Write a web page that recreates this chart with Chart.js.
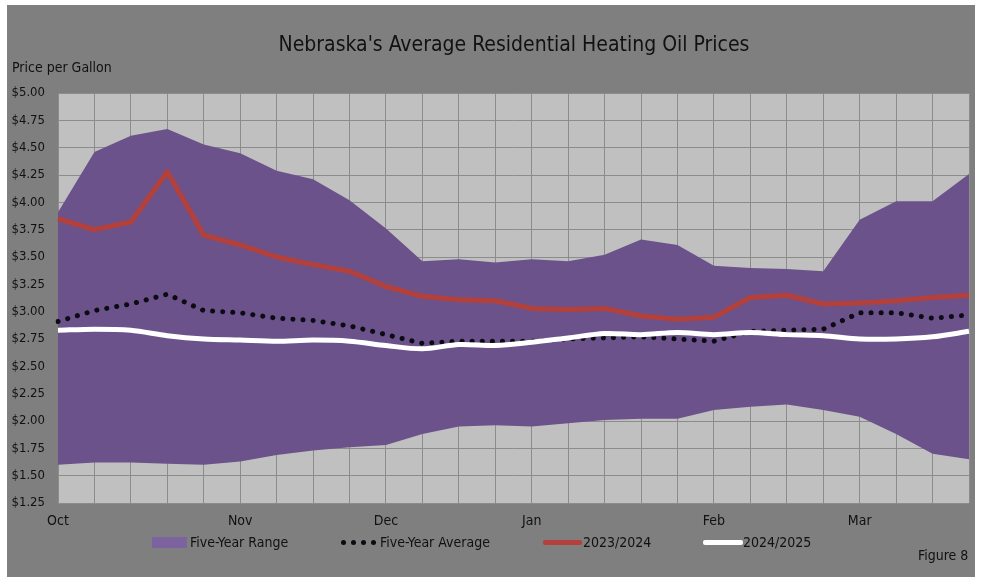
<!DOCTYPE html>
<html>
<head>
<meta charset="utf-8">
<title>Nebraska's Average Residential Heating Oil Prices</title>
<script src="https://cdn.jsdelivr.net/npm/chart.js@4.4.1/dist/chart.umd.min.js"></script>
<style>
	body { margin: 0; background: #ffffff; }
	#frame {
		position: absolute; left: 7px; top: 5px; width: 968px; height: 572px;
		background: #7f7f7f;
	}
	#wrap { position: absolute; left: 0; top: 0; width: 981px; height: 579px; }
	.txt {
		position: absolute; color: #111; white-space: nowrap;
		font-family: "Liberation Sans Narrow", "DejaVu Sans Condensed", "Open Sans", sans-serif;
	}
	#title { left: 0; width: 1028px; top: 32px; font-size: 21px; text-align: center; }
	#ylab { left: 12px; top: 59px; font-size: 14px; }
	#fig { left: 918px; top: 547px; font-size: 14px; }
	.leg { top: 534px; font-size: 14px; }
	.swatch { position: absolute; }
	.dot { position: absolute; width: 5px; height: 5px; border-radius: 50%; background: #0b0b12; top: 540px; }
</style>
</head>
<body>
<div id="frame"></div>
<div id="wrap"><canvas id="oil" width="981" height="579"></canvas></div>

<div class="txt" id="title">Nebraska's Average Residential Heating Oil Prices</div>
<div class="txt" id="ylab">Price per Gallon</div>
<div class="txt" id="fig">Figure 8</div>

<div class="swatch" style="left:152px; top:537px; width:35px; height:11px; background:#7d62a0;"></div>
<div class="txt leg" style="left:190px;">Five-Year Range</div>
<div class="dot" style="left:341px;"></div>
<div class="dot" style="left:351px;"></div>
<div class="dot" style="left:361px;"></div>
<div class="dot" style="left:371px;"></div>
<div class="txt leg" style="left:380px;">Five-Year Average</div>
<div class="swatch" style="left:543px; top:540px; width:39px; height:5px; border-radius:2px; background:#b3403a;"></div>
<div class="txt leg" style="left:583px;">2023/2024</div>
<div class="swatch" style="left:703px; top:540px; width:40px; height:5px; border-radius:2px; background:#ffffff;"></div>
<div class="txt leg" style="left:743px;">2024/2025</div>

<script>
// weekly points, October through March
var weeks = ['Oct', '', '', '', '', 'Nov', '', '', '', 'Dec', '', '', '', 'Jan', '', '', '', '',
	'Feb', '', '', '', 'Mar', '', '', ''];

var rangeLow = [1.60, 1.62, 1.62, 1.61, 1.60, 1.63, 1.69, 1.73, 1.76, 1.78, 1.88, 1.95, 1.96,
	1.95, 1.98, 2.01, 2.02, 2.02, 2.10, 2.13, 2.15, 2.10, 2.04, 1.88, 1.70, 1.65];

var rangeHigh = [3.91, 4.46, 4.61, 4.67, 4.53, 4.45, 4.29, 4.21, 4.02, 3.76, 3.46, 3.48, 3.45,
	3.48, 3.46, 3.52, 3.66, 3.61, 3.42, 3.40, 3.39, 3.37, 3.84, 4.01, 4.01, 4.26];

var fiveYearAvg = [2.91, 3.01, 3.07, 3.16, 3.01, 2.99, 2.94, 2.92, 2.87, 2.79, 2.71, 2.73, 2.73,
	2.73, 2.75, 2.76, 2.77, 2.75, 2.73, 2.82, 2.83, 2.84, 2.99, 2.99, 2.94, 2.97];

var season2324 = [3.85, 3.75, 3.82, 4.28, 3.70, 3.61, 3.50, 3.43, 3.37, 3.23, 3.14, 3.11, 3.10,
	3.03, 3.02, 3.03, 2.96, 2.93, 2.95, 3.13, 3.15, 3.07, 3.08, 3.10, 3.13, 3.15];

var season2425 = [2.83, 2.84, 2.83, 2.78, 2.75, 2.74, 2.73, 2.74, 2.73, 2.69, 2.66, 2.70, 2.69,
	2.72, 2.76, 2.80, 2.79, 2.81, 2.79, 2.81, 2.79, 2.78, 2.75, 2.75, 2.77, 2.82];

var yMin = 1.25;
var yMax = 5.00;
var yStep = 0.25;

var plotBackground = {
	id: 'plotBackground',
	beforeDraw: function(chart) {
		var a = chart.chartArea;
		var ctx = chart.ctx;
		ctx.save();
		ctx.fillStyle = '#c0c0c0';
		ctx.fillRect(a.left, a.top, a.right - a.left, a.bottom - a.top);
		ctx.restore();
	}
};

var fontFamily = '"Liberation Sans Narrow", "DejaVu Sans Condensed", "Open Sans", sans-serif';

new Chart(document.getElementById('oil').getContext('2d'), {
	type: 'line',
	data: {
		labels: weeks,
		datasets: [
			{
				label: 'Range low',
				data: rangeLow,
				borderWidth: 0,
				pointRadius: 0,
				fill: false,
				order: 6
			},
			{
				label: 'Five-Year Range',
				data: rangeHigh,
				borderWidth: 0,
				pointRadius: 0,
				backgroundColor: '#6b528a',
				fill: '-1',
				order: 5
			},
			{
				label: 'Five-Year Average',
				data: fiveYearAvg,
				borderColor: '#0b0b12',
				borderWidth: 5,
				borderDash: [0.1, 10],
				borderCapStyle: 'round',
				pointRadius: 0,
				fill: false,
				order: 3
			},
			{
				label: '2023/2024',
				data: season2324,
				borderColor: '#b3403a',
				borderWidth: 5,
				borderJoinStyle: 'round',
				pointRadius: 0,
				fill: false,
				order: 4
			},
			{
				label: '2024/2025',
				data: season2425,
				borderColor: '#ffffff',
				borderWidth: 5,
				borderJoinStyle: 'round',
				tension: 0.3,
				pointRadius: 0,
				fill: false,
				order: 1
			}
		]
	},
	options: {
		responsive: false,
		animation: false,
		layout: { padding: { left: 0, right: 12, top: 93, bottom: 46 } },
		plugins: {
			legend: { display: false },
			tooltip: { enabled: false },
			title: { display: false }
		},
		scales: {
			x: {
				offset: false,
				grid: { color: '#8c8c8c', lineWidth: 1, drawTicks: false },
				border: { display: false },
				ticks: {
					autoSkip: false,
					maxRotation: 0,
					padding: 10,
					color: '#111',
					font: { family: fontFamily, size: 14 }
				},
				afterFit: function(scale) { scale.height = 30; }
			},
			y: {
				min: yMin,
				max: yMax,
				grid: { color: '#8c8c8c', lineWidth: 1, drawTicks: false },
				border: { display: false },
				ticks: {
					stepSize: yStep,
					padding: 13,
					color: '#111',
					font: { family: fontFamily, size: 13 },
					callback: function(v) { return '$' + v.toFixed(2); }
				},
				afterFit: function(scale) { scale.width = 58; }
			}
		}
	},
	plugins: [plotBackground]
});
</script>
</body>
</html>
